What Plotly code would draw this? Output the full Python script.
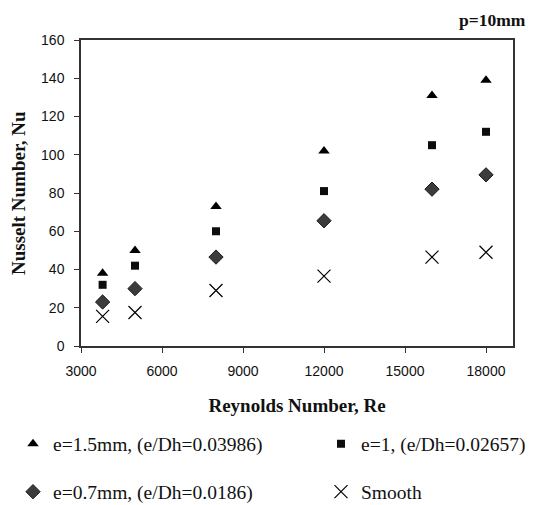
import plotly.graph_objects as go

re_vals = [3800, 5000, 8000, 12000, 16000, 18000]
nu_e15 = [38, 50, 73, 102, 131, 139]
nu_e10 = [32, 42, 60, 81, 105, 112]
nu_e07 = [23, 30, 46.5, 65.5, 82, 89.5]
nu_smooth = [15.5, 17.5, 29, 36.5, 46.5, 49]

names = ["e=1.5mm, (e/Dh=0.03986)", "e=1, (e/Dh=0.02657)",
         "e=0.7mm, (e/Dh=0.0186)", "Smooth"]
xticks = [3000, 6000, 9000, 12000, 15000, 18000]
yticks = [0, 20, 40, 60, 80, 100, 120, 140, 160]

fig = go.Figure()
fig.add_trace(go.Scatter(x=re_vals, y=nu_e15, mode="markers", name=names[0],
                         marker=dict(symbol="triangle-up", size=10, color="#000000"),
                         legend="legend"))
fig.add_trace(go.Scatter(x=re_vals, y=nu_e10, mode="markers", name=names[1],
                         marker=dict(symbol="square", size=8, color="#0d0d0d"),
                         legend="legend2"))
fig.add_trace(go.Scatter(x=re_vals, y=nu_e07, mode="markers", name=names[2],
                         marker=dict(symbol="diamond", size=11, color="#3c3c3c",
                                     line=dict(color="#1a1a1a", width=1)),
                         legend="legend3"))
fig.add_trace(go.Scatter(x=re_vals, y=nu_smooth, mode="markers", name=names[3],
                         marker=dict(symbol="x-thin", size=13, color="#000000",
                                     line=dict(color="#000000", width=1.2)),
                         legend="legend4"))

tick_font = dict(family="Liberation Sans, Arial, sans-serif", size=14, color="#111111")
title_font = dict(family="Liberation Serif, Times New Roman, serif", size=19, color="#111111")
leg_font = dict(family="Liberation Serif, Times New Roman, serif", size=19.5, color="#111111")

W, H = 534, 505
ML, MR, MT, MB = 81, 21, 40, 159


def leg(px, py):
    return dict(xref="container", yref="container", x=px / W, y=1 - py / H,
                xanchor="left", yanchor="middle", font=leg_font,
                bgcolor="rgba(0,0,0,0)", itemwidth=30)


fig.update_layout(
    width=W, height=H,
    margin=dict(l=ML, r=MR, t=MT, b=MB, autoexpand=False),
    paper_bgcolor="white", plot_bgcolor="white",
    showlegend=True,
    xaxis=dict(range=[3000, 19000], tickvals=xticks, ticktext=[str(v) for v in xticks],
               showgrid=False, zeroline=False, showline=True, linecolor="#333333",
               linewidth=1.5, mirror=True, ticks="outside", ticklen=5, tickcolor="#333333",
               tickfont=tick_font, ticklabelstandoff=6, automargin=False,
               title=dict(text="<b>Reynolds Number, Re</b>", font=title_font, standoff=21)),
    yaxis=dict(range=[0, 160], tickvals=yticks, showgrid=False, zeroline=False,
               showline=True, linecolor="#333333", linewidth=1.5, mirror=True,
               ticks="outside", ticklen=5, tickcolor="#333333", tickfont=tick_font,
               ticklabelstandoff=7, automargin=False),
    legend=leg(13, 444),
    legend2=leg(321, 444),
    legend3=leg(13, 492),
    legend4=leg(321, 492),
    annotations=[
        dict(text="<b>p=10mm</b>", xref="paper", yref="paper", x=1.035, y=1.0,
             xanchor="right", yanchor="bottom", yshift=8, showarrow=False,
             font=dict(family="Liberation Serif, Times New Roman, serif",
                       size=17.5, color="#111111")),
        dict(text="<b>Nusselt Number, Nu</b>", xref="paper", yref="paper",
             x=(18 - ML) / (W - ML - MR), y=0.5, xanchor="center", yanchor="middle",
             textangle=-90, showarrow=False, font=title_font),
    ],
)

fig.write_html("out.html")
